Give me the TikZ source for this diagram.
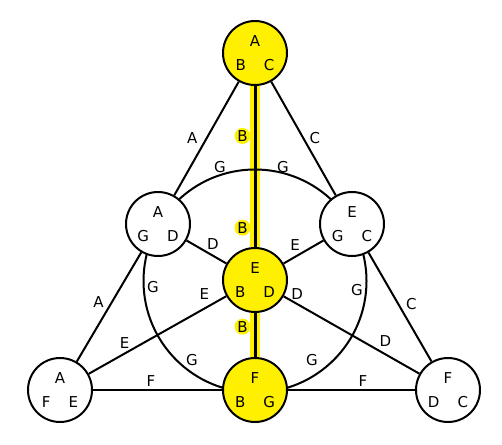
\documentclass[tikz,border=0pt]{standalone}
\usepackage{fontspec}
\setmainfont{DejaVu Sans}
\usetikzlibrary{calc,backgrounds}
\definecolor{fanoyellow}{RGB}{255,240,0}

\begin{document}
\begin{tikzpicture}[x=1pt,y=-1pt,
        every node/.style={font=\fontsize{15}{17}\selectfont},
        trio/.style={circle, draw, line width=2pt, minimum size=64pt, inner sep=0pt, align=center},
        lab/.style={inner sep=1pt},
        blab/.style={circle, fill=fanoyellow, inner sep=0pt, minimum size=16pt},
        edge/.style={line width=2pt}]
        \useasboundingbox (0,0) rectangle (502,444);

        % points of the plane, each listing its three lines
        \node[trio, fill=fanoyellow] (T)  at (255,53)  {A\\[7pt]B\hspace{18pt}C};
        \node[trio, fill=white]      (L)  at (158,224) {A\\[7pt]G\hspace{18pt}D};
        \node[trio, fill=white]      (R)  at (352,224) {E\\[7pt]G\hspace{18pt}C};
        \node[trio, fill=fanoyellow] (C)  at (255,280) {E\\[7pt]B\hspace{18pt}D};
        \node[trio, fill=white]      (BL) at (60,390)  {A\\[7pt]F\hspace{18pt}E};
        \node[trio, fill=fanoyellow] (BC) at (255,390) {F\\[7pt]B\hspace{18pt}G};
        \node[trio, fill=white]      (BR) at (448,390) {F\\[7pt]D\hspace{18pt}C};
        \coordinate (O) at ($(C)+(0,1)$);

        \begin{scope}[on background layer]
            % line B, highlighted
            \draw[line width=10pt, fanoyellow] (T) -- (C);
            \draw[line width=10pt, fanoyellow] (C) -- (BC);
            \draw[line width=3pt] (T) -- node[blab, pos=.31, left=3pt] {B} node[blab, pos=.88, left=3pt] {B} (C);
            \draw[line width=3pt] (C) -- node[blab, pos=.31, left=3pt] {B} (BC);

            % line G, the circle
            \draw[edge] (O) circle[radius=111.5pt];
            \node[lab] (g1) at ($(O)+(-35,-114)$) {G};
            \node[lab] (g2) at ($(O)+(28,-114)$)  {G};
            \node[lab] (g3) at ($(O)+(-102,6)$)   {G};
            \node[lab] (g4) at ($(O)+(102,9)$)    {G};
            \node[lab] (g5) at ($(O)+(-63,79)$)   {G};
            \node[lab] (g6) at ($(O)+(57,79)$)    {G};

            % sides
            \draw[edge] (T) -- node[lab, left=7pt] {A} (L);
            \draw[edge] (L) -- node[lab, pos=.45, left=6.5pt] {A} (BL);
            \draw[edge] (T) -- node[lab, right=4pt] {C} (R);
            \draw[edge] (R) -- node[lab, pos=.47, right=6pt] {C} (BR);
            \draw[edge] (BL) -- node[lab, pos=.45, above=1.5pt] {F} (BC);
            \draw[edge] (BC) -- node[lab, pos=.59, above=1.5pt] {F} (BR);

            % medians
            \draw[edge] (BL) -- node[lab, pos=.26, above=3.5pt] {E} node[lab, pos=.84, above=7.5pt] {E} (C);
            \draw[edge] (C) -- node[lab, pos=.1, above=3pt] {D} node[lab, pos=.75, above=5.5pt] {D} (BR);
            \draw[edge] (L) -- node[lab, pos=.66, above=4pt] {D} (C);
            \draw[edge] (R) -- node[lab, pos=.71, above=4.5pt] {E} (C);
        \end{scope}

    \end{tikzpicture}
\end{document}
